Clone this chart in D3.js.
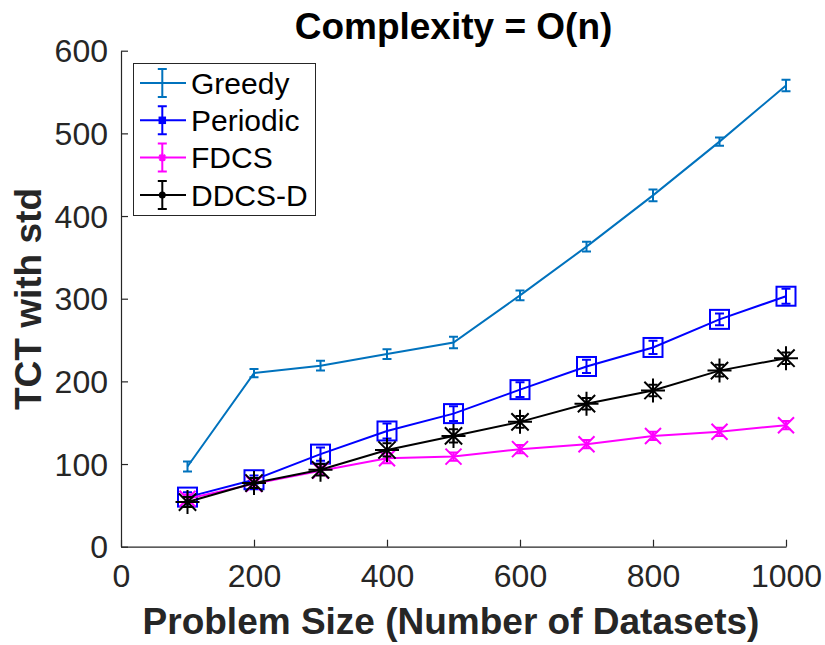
<!DOCTYPE html>
<html>
<head>
<meta charset="utf-8">
<script src="https://cdn.jsdelivr.net/npm/d3@7"></script>
<style>
  html, body { margin: 0; padding: 0; background: #fff; }
  svg { display: block; font-family: "Liberation Sans", Arial, Helvetica, sans-serif; }
</style>
</head>
<body>
<svg id="chart" width="825" height="645"></svg>
<script>
// Problem sizes (number of datasets)
const sizes = [100, 200, 300, 400, 500, 600, 700, 800, 900, 1000];

// Mean TCT per method
const greedy   = [97, 210, 219, 233, 247, 304, 363, 425, 490, 558];
const periodic = [60, 81, 112, 140, 161, 190, 218, 241, 275, 303];
const fdcs     = [58, 76, 92, 107, 109, 118, 124, 134, 139, 147];
const ddcsD    = [54, 77, 93, 117, 134, 151, 173, 189, 213, 228];

// Standard deviations
const greedyStd   = [6, 5, 6, 6, 7, 6, 6, 7, 5, 7];
const periodicStd = [6, 5, 8, 9, 9, 9, 8, 8, 7, 9];
const fdcsStd     = [5, 5, 5, 6, 5, 5, 5, 5, 5, 5];
const ddcsStd     = [6, 6, 7, 8, 8, 7, 7, 7, 7, 7];

// Axis ticks
const xTicks = [0, 200, 400, 600, 800, 1000];
const yTicks = [0, 100, 200, 300, 400, 500, 600];

const seriesNames = ["Greedy", "Periodic", "FDCS", "DDCS-D"];
const seriesColors = ["#0072BD", "#0000FF", "#FF00FF", "#000000"];
const seriesMarkers = ["none", "square", "x", "asterisk"];
const legendMarkers = ["none", "smallSquare", "smallAsterisk", "dot"];

const series = [
  { name: seriesNames[0], values: greedy,   std: greedyStd,   color: seriesColors[0], marker: seriesMarkers[0], legendMarker: legendMarkers[0] },
  { name: seriesNames[1], values: periodic, std: periodicStd, color: seriesColors[1], marker: seriesMarkers[1], legendMarker: legendMarkers[1] },
  { name: seriesNames[2], values: fdcs,     std: fdcsStd,     color: seriesColors[2], marker: seriesMarkers[2], legendMarker: legendMarkers[2] },
  { name: seriesNames[3], values: ddcsD,    std: ddcsStd,     color: seriesColors[3], marker: seriesMarkers[3], legendMarker: legendMarkers[3] }
];

const svg = d3.select("#chart");
const axisColor = "#262626";

const x = d3.scaleLinear().domain([0, 1000]).range([121, 786]);
const y = d3.scaleLinear().domain([0, 600]).range([546.7, 50.7]);

// Axes: left and bottom only, ticks pointing inward
const xAxis = d3.axisBottom(x).tickValues(xTicks).tickFormat(d3.format("d"))
  .tickSizeInner(-7).tickSizeOuter(0).tickPadding(18);
const yAxis = d3.axisLeft(y).tickValues(yTicks).tickFormat(d3.format("d"))
  .tickSizeInner(-7).tickSizeOuter(0).tickPadding(13);

const gx = svg.append("g").attr("transform", `translate(0,${y(0)})`).call(xAxis);
const gy = svg.append("g").attr("transform", `translate(${x(0)},0)`).call(yAxis);

[gx, gy].forEach(g => {
  g.select(".domain").attr("stroke", axisColor).attr("stroke-width", 1.2);
  g.selectAll(".tick line").attr("stroke", axisColor).attr("stroke-width", 1.2);
  g.selectAll(".tick text").attr("fill", axisColor).attr("font-size", 32)
    .attr("font-family", "'Liberation Sans', Arial, sans-serif");
});
gx.selectAll(".tick text").attr("dy", "0.71em");
gy.selectAll(".tick text").attr("dy", "0.35em");

// Marker drawing helpers
function drawMarker(g, type, cx, cy, color) {
  const sw = 2;
  if (type === "square") {
    g.append("rect").attr("x", cx - 9.5).attr("y", cy - 9.5).attr("width", 19).attr("height", 19)
      .attr("fill", "none").attr("stroke", color).attr("stroke-width", sw);
  } else if (type === "x") {
    const r = 8;
    g.append("path").attr("d", `M${cx - r},${cy - r}L${cx + r},${cy + r}M${cx - r},${cy + r}L${cx + r},${cy - r}`)
      .attr("stroke", color).attr("stroke-width", sw).attr("fill", "none");
  } else if (type === "asterisk") {
    const r = 12, d = r * 0.72;
    g.append("path").attr("d",
      `M${cx - r},${cy}L${cx + r},${cy}M${cx},${cy - r}L${cx},${cy + r}` +
      `M${cx - d},${cy - d}L${cx + d},${cy + d}M${cx - d},${cy + d}L${cx + d},${cy - d}`)
      .attr("stroke", color).attr("stroke-width", sw).attr("fill", "none");
  } else if (type === "smallSquare") {
    g.append("rect").attr("x", cx - 3).attr("y", cy - 3).attr("width", 6).attr("height", 6)
      .attr("fill", color).attr("stroke", color).attr("stroke-width", 1.5);
  } else if (type === "smallAsterisk") {
    const r = 4, d = r * 0.72;
    g.append("path").attr("d",
      `M${cx - r},${cy}L${cx + r},${cy}M${cx},${cy - r}L${cx},${cy + r}` +
      `M${cx - d},${cy - d}L${cx + d},${cy + d}M${cx - d},${cy + d}L${cx + d},${cy - d}`)
      .attr("stroke", color).attr("stroke-width", 2).attr("fill", "none");
  } else if (type === "dot") {
    g.append("circle").attr("cx", cx).attr("cy", cy).attr("r", 3.5).attr("fill", color);
  }
}

const line = d3.line().x((d, i) => x(sizes[i])).y(d => y(d));
const capHalf = 4.5;

// Series: line, error bars, markers
series.forEach(s => {
  const g = svg.append("g");
  g.append("path").datum(s.values).attr("d", line)
    .attr("fill", "none").attr("stroke", s.color).attr("stroke-width", 2);

  s.values.forEach((v, i) => {
    const cx = x(sizes[i]);
    const top = y(v + s.std[i]), bot = y(v - s.std[i]);
    g.append("path")
      .attr("d", `M${cx},${top}L${cx},${bot}M${cx - capHalf},${top}L${cx + capHalf},${top}M${cx - capHalf},${bot}L${cx + capHalf},${bot}`)
      .attr("stroke", s.color).attr("stroke-width", 2).attr("fill", "none");
    drawMarker(g, s.marker, cx, y(v), s.color);
  });
});

// Title and axis labels
svg.append("text").attr("x", 453.5).attr("y", 39).attr("text-anchor", "middle")
  .attr("font-size", 37).attr("font-weight", "bold").attr("fill", "#000")
  .text("Complexity = O(n)");

svg.append("text").attr("x", 451).attr("y", 634).attr("text-anchor", "middle")
  .attr("font-size", 37).attr("font-weight", "bold").attr("fill", axisColor)
  .text("Problem Size (Number of Datasets)");

svg.append("text").attr("transform", "translate(41,299) rotate(-90)").attr("text-anchor", "middle")
  .attr("font-size", 37).attr("font-weight", "bold").attr("fill", axisColor)
  .text("TCT with std");

// Legend
const legend = svg.append("g");
legend.append("rect").attr("x", 133.5).attr("y", 63.5).attr("width", 182).attr("height", 152)
  .attr("fill", "#fff").attr("stroke", axisColor).attr("stroke-width", 1);

series.forEach((s, i) => {
  const cy = 83 + i * 37.3;
  const lg = legend.append("g");
  lg.append("line").attr("x1", 140).attr("x2", 186).attr("y1", cy).attr("y2", cy)
    .attr("stroke", s.color).attr("stroke-width", 2);
  lg.append("path")
    .attr("d", `M162.3,${cy - 14}L162.3,${cy + 14}M${162.3 - capHalf},${cy - 14}L${162.3 + capHalf},${cy - 14}M${162.3 - capHalf},${cy + 14}L${162.3 + capHalf},${cy + 14}`)
    .attr("stroke", s.color).attr("stroke-width", 2).attr("fill", "none");
  drawMarker(lg, s.legendMarker, 162.3, cy, s.color);
  lg.append("text").attr("x", 191).attr("y", cy).attr("dy", "0.36em")
    .attr("font-size", 30).attr("fill", "#000").text(s.name);
});
</script>
</body>
</html>
